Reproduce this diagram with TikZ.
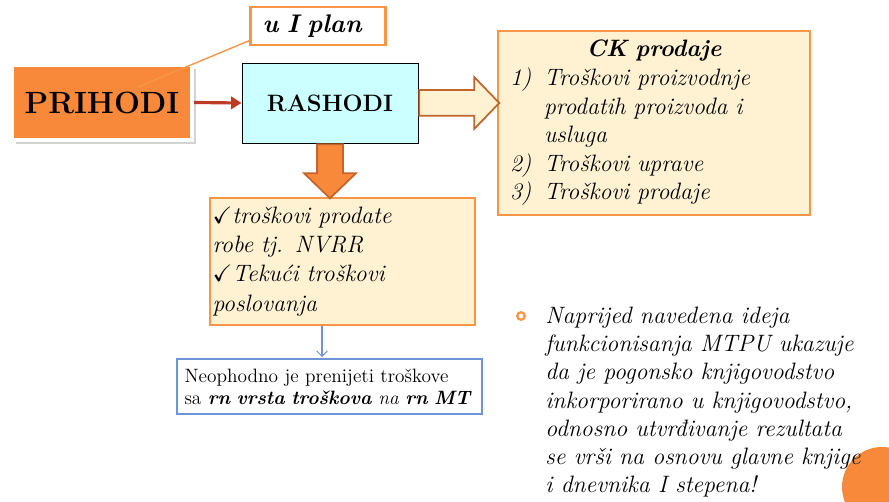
\documentclass[tikz,border=0pt]{standalone}
\usepackage{fontspec}
\usepackage{amssymb}
\usetikzlibrary{arrows.meta,shapes.arrows,shadows}

\definecolor{boxorange}{HTML}{F8893A}
\definecolor{lineorange}{HTML}{F79646}
\definecolor{paleyellow}{HTML}{FFF2D3}
\definecolor{palecyan}{HTML}{CCFFFF}
\definecolor{arrowred}{HTML}{BE3A26}
\definecolor{arrowbrown}{HTML}{C0652B}
\definecolor{noteblue}{HTML}{6E93D6}

\begin{document}
\begin{tikzpicture}[x=0.02cm, y=-0.02cm,
    every node/.style={font=\fontsize{13.5}{16.2}\selectfont},
    yellowbox/.style={draw=lineorange, line width=1.3pt, fill=paleyellow, align=left},
    bigarrow/.style={single arrow, draw=arrowbrown, line width=1pt, inner sep=0.24cm, anchor=tail,
        single arrow head extend=0.26cm, single arrow tip angle=92}
]
    \useasboundingbox (0,0) rectangle (889,502);

    % corner decoration
    \fill[boxorange] (882,487) circle (0.8cm);

    \node (uplan) at (318,26) [draw=lineorange, line width=1.2pt, fill=white, align=left,
        minimum width=2.7cm, minimum height=0.76cm, text width=2.22cm, inner xsep=0.24cm,
        font=\fontsize{14.5}{17}\selectfont\bfseries\itshape] {u I plan};
    \node (prihodi) at (102,102.5) [draw=white, line width=2.5pt, fill=boxorange, drop shadow={opacity=0.35},
        minimum width=3.6cm, minimum height=1.5cm, font=\fontsize{17.5}{20}\selectfont\bfseries] {PRIHODI};
    \node (rashodi) at (330,103) [draw=black, line width=0.5pt, fill=palecyan,
        minimum width=3.52cm, minimum height=1.6cm, font=\fontsize{13.5}{16}\selectfont\bfseries] {RASHODI};
    \node (ck) at (654,123) [yellowbox, minimum width=6.24cm, minimum height=3.68cm,
        text width=5.76cm, inner xsep=0.24cm, font=\fontsize{13.5}{16.3}\selectfont\itshape]
        {\makebox[5.76cm]{\bfseries CK prodaje}\\
         \makebox[0.68cm][l]{1)}Troškovi proizvodnje\\
         \hspace*{0.68cm}prodatih proizvoda i\\
         \hspace*{0.68cm}usluga\\
         \makebox[0.68cm][l]{2)}Troškovi uprave\\
         \makebox[0.68cm][l]{3)}Troškovi prodaje};
    \node (troskovi) at (342.5,261.5) [yellowbox, minimum width=5.3cm, minimum height=2.54cm,
        text width=5.2cm, inner xsep=0.05cm, font=\fontsize{13.5}{16.6}\selectfont\itshape]
        {$\checkmark$troškovi prodate\\ robe tj. NVRR\\ $\checkmark$Tekući troškovi\\ poslovanja};
    \node (neophodno) at (329.5,386.5) [draw=noteblue, line width=1.2pt, fill=white, align=left,
        minimum width=6.1cm, minimum height=1.1cm, text width=5.8cm, inner xsep=0.15cm,
        font=\fontsize{11}{12.6}\selectfont]
        {Neophodno je prenijeti troškove\\ sa \textbf{\textit{rn vrsta troškova}} \textit{na} \textbf{\textit{rn MT}}};

    \coordinate (callout) at (138,87);
    \coordinate (notetop) at (322,357);
    \draw[lineorange, line width=0.8pt] (uplan.192) -- (callout);
    \draw[arrowred, line width=1.8pt, -{Triangle[length=6pt, width=7pt]}] (prihodi.east) -- (rashodi.west);
    \draw[noteblue, line width=0.6pt, -{Straight Barb[length=3pt, width=6pt]}]
        (troskovi.south -| notetop) -- (notetop);

    % block arrows
    \node[bigarrow, fill=paleyellow, minimum height=1.6cm, minimum width=1cm] (toCK) at (rashodi.east) {};
    \node[bigarrow, fill=boxorange, shape border rotate=270, minimum height=1.08cm, minimum width=1.02cm]
        (toTroskovi) at (rashodi.south) {};

    % note on the right
    \node (bullet) at (521,316) [circle, draw=lineorange, line width=1.3pt, inner sep=0pt, minimum size=0.15cm] {};
    \node (napomena) at (545,493) [anchor=base west, align=left, inner sep=0pt,
        font=\fontsize{13.5}{16.1}\selectfont\itshape]
        {Naprijed navedena ideja\\ funkcionisanja MTPU ukazuje\\ da je pogonsko knjigovodstvo\\
         inkorporirano u knjigovodstvo,\\ odnosno utvrđivanje rezultata\\ se vrši na osnovu glavne knjige\\
         i dnevnika I stepena!};
\end{tikzpicture}
\end{document}
